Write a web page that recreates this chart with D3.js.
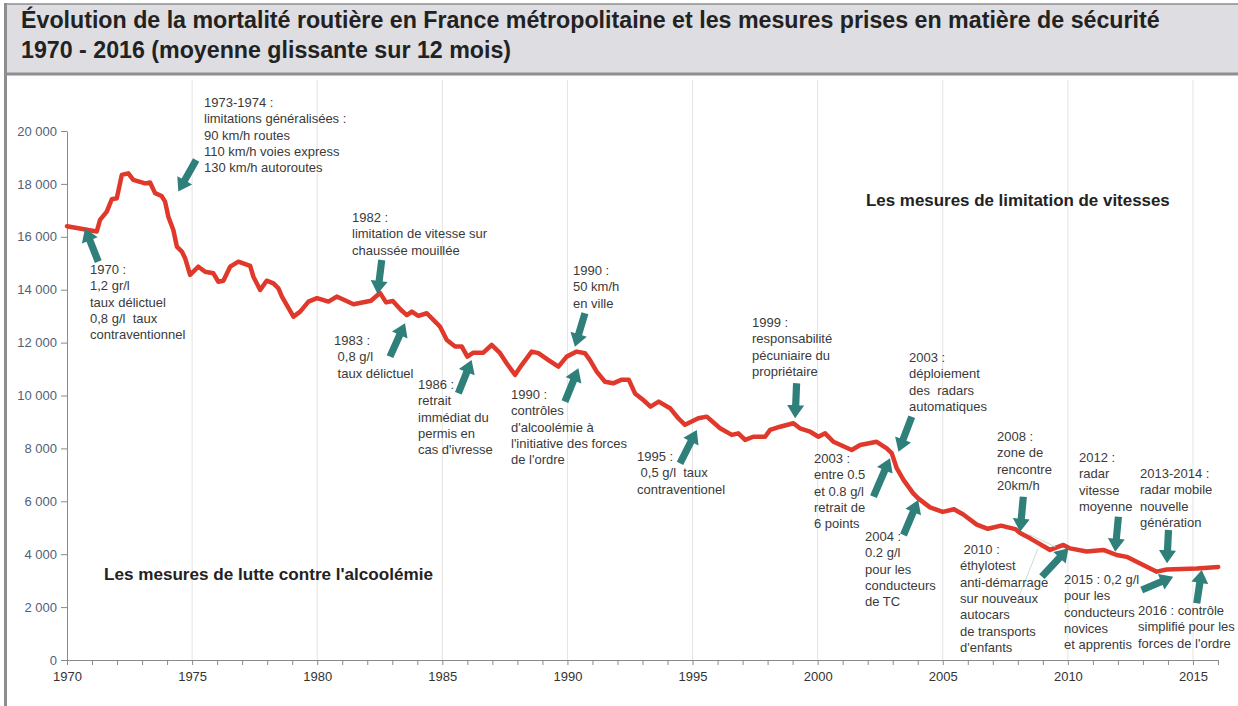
<!DOCTYPE html>
<html>
<head>
<meta charset="utf-8">
<script src="https://cdn.jsdelivr.net/npm/d3@7"></script>
<style>
  body { margin: 0; background: #fff; }
  svg { display: block; font-family: "Liberation Sans", Arial, sans-serif; }
  text { white-space: pre; }
</style>
</head>
<body>
<svg id="chart" width="1238" height="706"></svg>
<script>
// 12-month rolling number of road deaths
var dates = [1970.00, 1971.19, 1971.32, 1971.59, 1971.79, 1971.99, 1972.19, 1972.45, 1972.65, 1973.12,
  1973.32, 1973.52, 1973.78, 1973.92, 1974.05, 1974.25, 1974.39, 1974.59, 1974.72, 1974.92,
  1975.25, 1975.52, 1975.85, 1976.05, 1976.25, 1976.52, 1976.85, 1977.32, 1977.45, 1977.72,
  1977.98, 1978.25, 1978.45, 1978.59, 1979.05, 1979.32, 1979.65, 1979.99, 1980.45, 1980.78,
  1981.45, 1982.15, 1982.51, 1982.75, 1983.02, 1983.35, 1983.58, 1983.78, 1984.04, 1984.38,
  1984.78, 1984.91, 1985.18, 1985.51, 1985.78, 1986.00, 1986.24, 1986.64, 1986.97, 1987.31,
  1987.57, 1987.91, 1988.17, 1988.57, 1988.84, 1989.24, 1989.64, 1989.97, 1990.37, 1990.70,
  1990.90, 1991.17, 1991.50, 1991.83, 1992.17, 1992.45, 1992.70, 1993.03, 1993.32, 1993.65,
  1994.10, 1994.43, 1994.70, 1995.23, 1995.57, 1996.10, 1996.57, 1996.83, 1997.10, 1997.43,
  1997.90, 1998.10, 1998.50, 1999.03, 1999.29, 1999.70, 2000.03, 2000.30, 2000.63, 2001.36,
  2001.70, 2002.36, 2002.76, 2002.96, 2003.16, 2003.43, 2003.82, 2004.02, 2004.49, 2005.00,
  2005.45, 2005.82, 2006.36, 2006.80, 2007.33, 2007.90, 2008.09, 2008.49, 2009.29, 2009.82,
  2010.09, 2010.75, 2011.42, 2011.95, 2012.35, 2013.01, 2013.55, 2013.95, 2015.15, 2016.01];

var deaths = [16400, 16200, 16640, 16950, 17420, 17460, 18340, 18400, 18150, 18020,
  18050, 17650, 17540, 17330, 16760, 16260, 15630, 15440, 15190, 14560,
  14870, 14680, 14620, 14300, 14340, 14870, 15060, 14900, 14490, 13990,
  14340, 14240, 14050, 13740, 12980, 13170, 13550, 13680, 13550, 13740,
  13450, 13580, 13880, 13520, 13570, 13230, 13040, 13170, 13010, 13110,
  12730, 12600, 12100, 11850, 11850, 11470, 11620, 11620, 11910, 11600,
  11220, 10780, 11150, 11660, 11600, 11340, 11090, 11470, 11660, 11600,
  11340, 10900, 10520, 10460, 10600, 10600, 10080, 9830, 9580, 9770,
  9520, 9140, 8890, 9140, 9200, 8760, 8510, 8570, 8320, 8440,
  8440, 8700, 8820, 8950, 8760, 8630, 8440, 8570, 8250, 7940,
  8130, 8250, 8000, 7820, 7250, 6810, 6300, 6110, 5770, 5600,
  5700, 5500, 5120, 4960, 5080, 4950, 4800, 4600, 4160, 4350,
  4220, 4100, 4160, 3970, 3900, 3590, 3340, 3420, 3460, 3520];

var yTicks = [0, 2000, 4000, 6000, 8000, 10000, 12000, 14000, 16000, 18000, 20000];
var xTicks = d3.range(1970, 2017);
var xLabels = [1970, 1975, 1980, 1985, 1990, 1995, 2000, 2005, 2010, 2015];

// arrows: tail [year, deaths] -> head [year, deaths]
var arrows = [
  [1971.25, 15060, 1970.72, 16323],
  [1975.16, 18905, 1974.45, 17707],
  [1982.58, 15124, 1982.41, 13838],
  [1982.91, 11468, 1983.51, 12731],
  [1985.64, 10084, 1986.17, 11343],
  [1990.70, 13109, 1990.30, 11846],
  [1989.90, 9766, 1990.44, 11029],
  [1994.50, 7437, 1995.17, 8696],
  [1999.16, 10462, 1999.10, 9139],
  [2003.76, 9199, 2003.23, 7876],
  [2002.23, 6174, 2002.89, 7626],
  [2003.43, 4726, 2004.02, 6050],
  [2008.22, 6174, 2008.09, 4851],
  [2008.96, 3150, 2010.02, 4223],
  [2012.02, 5418, 2011.89, 4095],
  [2014.02, 4915, 2013.96, 3656],
  [2012.95, 2647, 2014.21, 3150],
  [2015.15, 2144, 2015.35, 3403]
];

var notes = [
  {x: 204, y: 107, lines: ["1973-1974 :", "limitations généralisées :", "90 km/h routes", "110 km/h voies express", "130 km/h autoroutes"]},
  {x: 90, y: 274, lines: ["1970 :", "1,2 gr/l", "taux délictuel", "0,8 g/l  taux", "contraventionnel"]},
  {x: 352, y: 222, lines: ["1982 :", "limitation de vitesse sur", "chaussée mouillée"]},
  {x: 334, y: 345, lines: ["1983 :", " 0,8 g/l", " taux délictuel"]},
  {x: 418, y: 389, lines: ["1986 :", "retrait", "immédiat du", "permis en", "cas d'ivresse"]},
  {x: 573, y: 275, lines: ["1990 :", "50 km/h", "en ville"]},
  {x: 511, y: 399, lines: ["1990 :", "contrôles", "d'alcoolémie à", "l'initiative des forces", "de l'ordre"]},
  {x: 637, y: 461, lines: ["1995 :", " 0,5 g/l  taux", "contraventionel"]},
  {x: 752, y: 327, lines: ["1999 :", "responsabilité", "pécuniaire du", "propriétaire"]},
  {x: 909, y: 362, lines: ["2003 :", "déploiement", "des  radars", "automatiques"]},
  {x: 814, y: 463, lines: ["2003 :", "entre 0.5", "et 0.8 g/l", "retrait de", "6 points"]},
  {x: 865, y: 541, lines: ["2004 :", "0.2 g/l", "pour les", "conducteurs", "de TC"]},
  {x: 997, y: 441, lines: ["2008 :", "zone de", "rencontre", "20km/h"]},
  {x: 960, y: 554, lines: [" 2010 :", "éthylotest", "anti-démarrage", "sur nouveaux", "autocars", "de transports", "d'enfants"]},
  {x: 1079, y: 462, lines: ["2012 :", "radar", "vitesse", "moyenne"]},
  {x: 1140, y: 478, lines: ["2013-2014 :", "radar mobile", "nouvelle", "génération"]},
  {x: 1064, y: 584, lines: ["2015 : 0,2 g/l", "pour les", "conducteurs", "novices", "et apprentis"]},
  {x: 1138, y: 615, lines: ["2016 : contrôle", "simplifié pour les", "forces de l'ordre"]}
];

var svg = d3.select("#chart");

var x = d3.scaleLinear().domain([1970, 2016]).range([67, 1218]);
var y = d3.scaleLinear().domain([0, 20000]).range([660, 131]);

var fr = d3.formatLocale({decimal: ",", thousands: " ", grouping: [3], currency: ["", " €"]});
var fmt = fr.format(",");

// frame + title box
svg.append("rect").attr("x", 5).attr("y", 4).attr("width", 1240).attr("height", 70)
    .attr("fill", "#dedde1").attr("stroke", "#8e8e8e").attr("stroke-width", 1.5);
svg.append("line").attr("x1", 5).attr("x2", 1238).attr("y1", 74).attr("y2", 74)
    .attr("stroke", "#8e8e8e").attr("stroke-width", 3);
svg.append("line").attr("x1", 5.5).attr("x2", 5.5).attr("y1", 3).attr("y2", 706)
    .attr("stroke", "#8e8e8e").attr("stroke-width", 3);

function fit(sel, w) {
  var cur = sel.node().getComputedTextLength();
  var fs = parseFloat(sel.attr("font-size"));
  sel.attr("font-size", (fs * w / cur).toFixed(2));
  return fs * w / cur;
}

var t1 = svg.append("text").attr("x", 21).attr("y", 28).attr("font-size", 21)
    .attr("font-weight", "bold").attr("fill", "#222")
    .text("Évolution de la mortalité routière en France métropolitaine et les mesures prises en matière de sécurité");
var tfs = fit(t1, 1139);
svg.append("text").attr("x", 21).attr("y", 58).attr("font-size", tfs.toFixed(2))
    .attr("font-weight", "bold").attr("fill", "#222")
    .text("1970 - 2016 (moyenne glissante sur 12 mois)");

// vertical grid
svg.append("g").selectAll("line").data(xLabels.slice(1)).join("line")
    .attr("x1", function(d) { return x(d); }).attr("x2", function(d) { return x(d); })
    .attr("y1", 80).attr("y2", 660)
    .attr("stroke", "#e3e3e3").attr("stroke-width", 1);

// axes
var gy = svg.append("g").attr("transform", "translate(67,0)")
    .call(d3.axisLeft(y).tickValues(yTicks).tickSize(6).tickSizeOuter(0).tickPadding(4).tickFormat(fmt));
var gx = svg.append("g").attr("transform", "translate(0,660)")
    .call(d3.axisBottom(x).tickValues(xTicks).tickSize(5).tickSizeOuter(0).tickPadding(7)
      .tickFormat(function(d) { return d % 5 === 0 ? d : ""; }));
[gx, gy].forEach(function(g) {
  g.select(".domain").attr("stroke", "#8a8a8a");
  g.selectAll(".tick line").attr("stroke", "#8a8a8a");
  g.selectAll("text").attr("font-size", 13).attr("font-family", "Liberation Sans, Arial, sans-serif");
});
gy.selectAll("text").attr("fill", "#4f5f7a");
gx.selectAll("text").attr("fill", "#333");

// the series
var line = d3.line()
    .x(function(d, i) { return x(dates[i]); })
    .y(function(d) { return y(d); });
svg.append("path").datum(deaths)
    .attr("d", line)
    .attr("fill", "none").attr("stroke", "#e0392b").attr("stroke-width", 4.5)
    .attr("stroke-linejoin", "round").attr("stroke-linecap", "round");

// faint leader lines of the 2010 note
svg.append("g").selectAll("line").data([[2008.05, 2400, 2008.8, 4200], [2008.45, 4750, 2009.5, 4280]]).join("line")
    .attr("x1", function(d) { return x(d[0]); }).attr("y1", function(d) { return y(d[1]); })
    .attr("x2", function(d) { return x(d[2]); }).attr("y2", function(d) { return y(d[3]); })
    .attr("stroke", "#c9dcdb").attr("stroke-width", 1);

// arrows
function arrowPath(a) {
  var x0 = x(a[0]), y0 = y(a[1]), x1 = x(a[2]), y1 = y(a[3]);
  var dx = x1 - x0, dy = y1 - y0, len = Math.sqrt(dx * dx + dy * dy);
  var ux = dx / len, uy = dy / len, px = -uy, py = ux;
  var sw = 3.6, hw = 8.5, hl = 13;
  var bx = x1 - ux * hl, by = y1 - uy * hl;
  var pts = [
    [x0 + px * sw, y0 + py * sw], [bx + px * sw, by + py * sw], [bx + px * hw, by + py * hw],
    [x1, y1],
    [bx - px * hw, by - py * hw], [bx - px * sw, by - py * sw], [x0 - px * sw, y0 - py * sw]
  ];
  return "M" + pts.map(function(p) { return p[0].toFixed(1) + "," + p[1].toFixed(1); }).join("L") + "Z";
}
svg.append("g").selectAll("path").data(arrows).join("path")
    .attr("d", arrowPath).attr("fill", "#2f7f7a");

// notes
var ng = svg.append("g").attr("font-size", 13).attr("fill", "#3a3a3a");
notes.forEach(function(n) {
  var t = ng.append("text").attr("x", n.x).attr("y", n.y);
  t.selectAll("tspan").data(n.lines).join("tspan")
    .attr("x", n.x).attr("dy", function(d, i) { return i === 0 ? 0 : 16.3; })
    .text(function(d) { return d; });
});

// category labels
var b1 = svg.append("text").attr("x", 866).attr("y", 206).attr("font-size", 16)
    .attr("font-weight", "bold").attr("fill", "#222").text("Les mesures de limitation de vitesses");
fit(b1, 304);
var b2 = svg.append("text").attr("x", 104).attr("y", 580).attr("font-size", 16)
    .attr("font-weight", "bold").attr("fill", "#222").text("Les mesures de lutte contre l'alcoolémie");
fit(b2, 329);
</script>
</body>
</html>
